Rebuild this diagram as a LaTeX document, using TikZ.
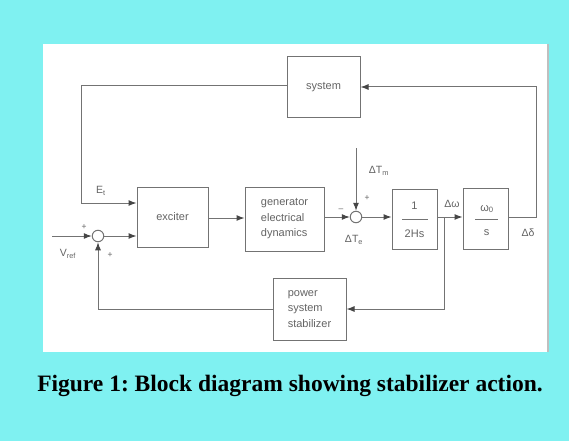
\documentclass[tikz,border=0pt]{standalone}
\usepackage{fontspec}
\setmainfont{Liberation Serif}
\newfontfamily\diag{Liberation Sans}
\usetikzlibrary{arrows.meta}
\definecolor{bgcyan}{RGB}{127,241,241}
\definecolor{ln}{RGB}{115,115,115}
\definecolor{tx}{RGB}{100,100,100}
\definecolor{tip}{RGB}{70,70,70}
\tikzset{
  blk/.style={draw=ln, line width=1pt, inner sep=0pt, font=\diag\fontsize{11}{15.5}\selectfont, text=tx, align=left},
  sumj/.style={circle, draw=ln, line width=1pt, minimum size=11.5pt, inner sep=0pt},
  wire/.style={draw=ln, line width=1pt},
  arr/.style={wire, -{Latex[length=8pt,width=6pt,color=tip]}},
  lbl/.style={font=\diag\fontsize{10.5}{12}\selectfont, text=tx, inner sep=0pt},
  sgn/.style={font=\diag\fontsize{8.5}{9}\selectfont, text=tx, inner sep=0pt}
}
\begin{document}
\frenchspacing
\begin{tikzpicture}[x=1pt,y=-1pt]
\useasboundingbox (0,0) rectangle (569,441);
\fill[bgcyan] (0,0) rectangle (569,441);
\fill[white] (43,44) rectangle (548,352);
\draw[black!25, line width=1.5pt] (548,44) -- (548,352);

% blocks
\node[blk, minimum width=73pt, minimum height=60pt] (sys) at (323.5,87) {system};
\node[blk, minimum width=71pt, minimum height=60pt] (exc) at (172.5,217) {exciter};
\node[blk, minimum width=79pt, minimum height=64pt] (gen) at (284.5,219) {generator\\electrical\\dynamics};
\node[blk, minimum width=73pt, minimum height=62pt] (pss) at (309.5,309) {power\\system\\stabilizer};
\node[blk, minimum width=45pt, minimum height=60pt] (hs) at (414.5,219) {};
\node[blk, minimum width=45pt, minimum height=61pt] (ws) at (485.5,218.5) {};

% fraction contents
\node[lbl, font=\diag\fontsize{11}{12}\selectfont] (hsnum) at (414.5,206) {1};
\draw[wire] (402,219) -- (428,219);
\node[lbl, font=\diag\fontsize{11}{12}\selectfont] (hsden) at (414.5,234) {2Hs};
\node[lbl, font=\diag\fontsize{11}{12}\selectfont] (wsnum) at (487,209) {ω\textsubscript{0}};
\draw[wire] (475,219) -- (498,219);
\node[lbl, font=\diag\fontsize{11}{12}\selectfont] (wsden) at (486.5,233) {s};

% summing junctions
\node[sumj] (s1) at (98,236) {};
\node[sumj] (s2) at (356,217) {};

% auxiliary coordinates
\coordinate (tl) at (81,86);
\coordinate (el) at (81,203);
\coordinate (vin) at (52,236);
\coordinate (tm) at (356,148);
\coordinate (br) at (444,217);
\coordinate (tr) at (536,87);

% connectors
\draw[arr] (sys.west |- tl) -- (tl) -- (el) -- (exc.west |- el);
\draw[arr] (vin) -- (s1.west);
\draw[arr] (s1.east) -- (exc.west |- s1);
\draw[arr] (exc.east |- 0,218) -- (gen.west |- 0,218);
\draw[arr] (gen.east |- s2) -- (s2.west);
\draw[arr] (tm) -- (s2.north);
\draw[arr] (s2.east) -- (hs.west |- s2);
\draw[arr] (hs.east |- s2) -- (ws.west |- s2);
\draw[arr] (br) |- (pss.east);
\draw[arr] (pss.west) -| (s1.south);
\draw[arr] (ws.east |- s2) -| (tr) -- (sys.east |- tr);

% labels
\node[lbl] (lE) at (101,191) {E\textsubscript{t}};
\node[lbl] (lV) at (68,254) {V\textsubscript{ref}};
\node[sgn] (p1) at (84,227) {+};
\node[sgn] (p2) at (110,255) {+};
\node[sgn] (m2) at (341,210) {–};
\node[sgn] (p3) at (367,198) {+};
\node[lbl] (lTm) at (379,171) {ΔT\textsubscript{m}};
\node[lbl] (lTe) at (354,240) {ΔT\textsubscript{e}};
\node[lbl] (lw) at (452,204) {Δω};
\node[lbl] (ld) at (528,233) {Δδ};

% caption
\node[anchor=base, font=\fontsize{23.5}{28}\selectfont\bfseries, inner sep=0pt] (cap) at (290,391) {Figure 1: Block diagram showing stabilizer action.};
\end{tikzpicture}
\end{document}
